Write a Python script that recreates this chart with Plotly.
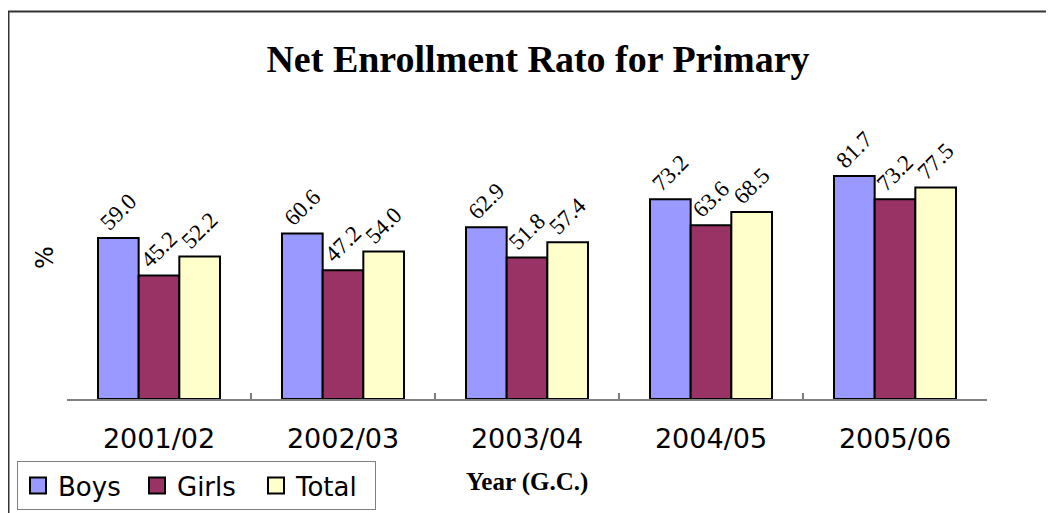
import plotly.graph_objects as go

years = ["2001/02", "2002/03", "2003/04", "2004/05", "2005/06"]
boys = [59.0, 60.6, 62.9, 73.2, 81.7]
girls = [45.2, 47.2, 51.8, 63.6, 73.2]
total = [52.2, 54.0, 57.4, 68.5, 77.5]
series_names = ["Boys", "Girls", "Total"]
series_colors = ["#9999FF", "#993366", "#FFFFCC"]

fig = go.Figure()
for name, vals, col in zip(series_names, [boys, girls, total], series_colors):
    fig.add_trace(go.Bar(
        x=years, y=vals, name=name, showlegend=False,
        marker=dict(color=col, line=dict(color="#000000", width=2)),
        text=[f"{v:.1f}" for v in vals], textposition="outside",
        textangle=-45, constraintext="none", cliponaxis=False,
        textfont=dict(family="Liberation Serif", size=23, color="#000000"),
    ))
# legend entries (square swatches)
for name, col in zip(series_names, series_colors):
    fig.add_trace(go.Scatter(
        x=[None], y=[None], mode="markers", name=name,
        marker=dict(symbol="square", size=16, color=col,
                    line=dict(color="#000000", width=2)),
    ))

W, H = 1054, 513
OFF = 8  # page body margin offset of the figure div
# plot area in page pixels: x 67..987, y 126..399
L = 67 - OFF
R = W - (987 - OFF)
T = 126 - OFF
B = H - (399 - OFF)
pw, ph = W - L - R, H - T - B

def px_x(p):
    return (p - OFF - L) / pw

def px_y(p):
    return (H - B - (p - OFF)) / ph

fig.update_layout(
    width=W, height=H,
    margin=dict(l=L, r=R, t=T, b=B, autoexpand=False),
    paper_bgcolor="white", plot_bgcolor="white",
    barmode="group", bargap=0.337, bargroupgap=0,
    title=dict(text="<b>Net Enrollment Rato for Primary</b>",
               x=(538 - OFF) / W, xanchor="center", xref="container",
               y=1 - (59 - OFF) / H, yanchor="middle", yref="container",
               font=dict(family="Liberation Serif", size=38, color="#000000")),
    xaxis=dict(showline=True, linecolor="#808080", linewidth=2,
               ticks="inside", tickson="boundaries", ticklen=6,
               tickcolor="#808080", tickwidth=1.5,
               tickfont=dict(family="DejaVu Sans", size=27, color="#000000"),
               ticklabelstandoff=15, showgrid=False, zeroline=False),
    yaxis=dict(visible=False, range=[0, 100], showgrid=False),
    legend=dict(orientation="h", x=px_x(17), y=px_y(461),
                xanchor="left", yanchor="top",
                bordercolor="#808080", borderwidth=1, bgcolor="white",
                font=dict(family="DejaVu Sans", size=26, color="#000000"),
                itemwidth=30, tracegroupgap=0, entrywidth=74),
    showlegend=True,
)

fig.add_annotation(text="%", xref="paper", yref="paper",
                   x=px_x(45), y=px_y(258), xanchor="center", yanchor="middle",
                   showarrow=False, textangle=-90,
                   font=dict(family="DejaVu Sans", size=24, color="#000000"))
fig.add_annotation(text="<b>Year (G.C.)</b>", xref="paper", yref="paper",
                   x=px_x(527), y=px_y(482), xanchor="center", yanchor="middle",
                   showarrow=False,
                   font=dict(family="Liberation Serif", size=25, color="#000000"))

# outer chart frame (extends beyond the visible page on the right and bottom)
fig.add_shape(type="rect", xref="paper", yref="paper",
              x0=px_x(8.5), x1=px_x(1080), y0=px_y(540), y1=px_y(11.5),
              line=dict(color="#333333", width=2), fillcolor="rgba(0,0,0,0)")

fig.write_html("out.html")
